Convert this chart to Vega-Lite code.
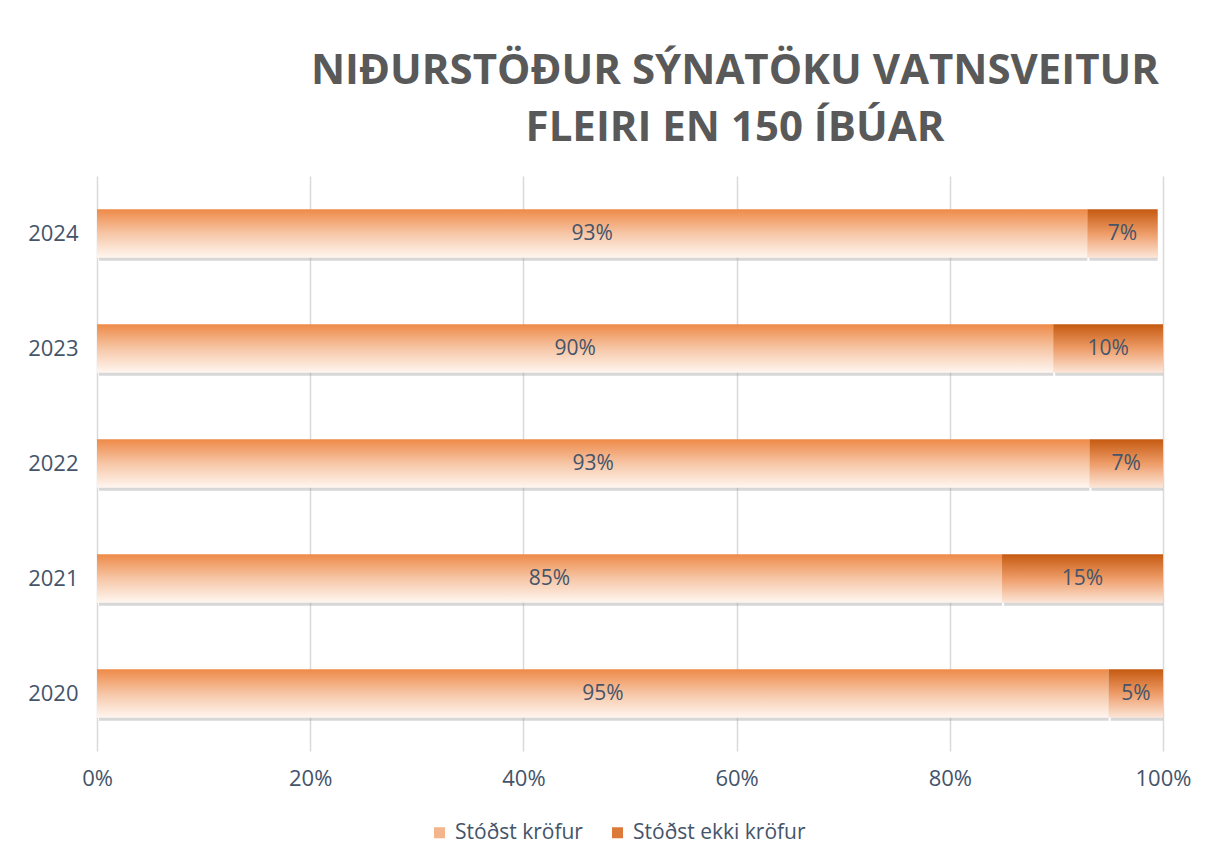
{
  "$schema": "https://vega.github.io/schema/vega-lite/v6.json",
  "width": 1066,
  "height": 575,
  "autosize": {"type": "none"},
  "padding": {"left": 97, "top": 176, "right": 51, "bottom": 117},
  "background": "white",
  "config": {"view": {"stroke": null}},
  "title": {
    "text": ["NIÐURSTÖÐUR SÝNATÖKU VATNSVEITUR", "FLEIRI EN 150 ÍBÚAR"],
    "font": "Open Sans",
    "fontSize": 42,
    "fontWeight": "bold",
    "color": "#595959",
    "anchor": "middle",
    "frame": "group",
    "dx": 105,
    "offset": 26,
    "lineHeight": 57
  },
  "data": {
    "values": [
      {"ar": "2024", "flokkur": "Stóðst kröfur", "hlutfall": 0.929},
      {"ar": "2024", "flokkur": "Stóðst ekki kröfur", "hlutfall": 0.066},
      {"ar": "2023", "flokkur": "Stóðst kröfur", "hlutfall": 0.897},
      {"ar": "2023", "flokkur": "Stóðst ekki kröfur", "hlutfall": 0.103},
      {"ar": "2022", "flokkur": "Stóðst kröfur", "hlutfall": 0.931},
      {"ar": "2022", "flokkur": "Stóðst ekki kröfur", "hlutfall": 0.069},
      {"ar": "2021", "flokkur": "Stóðst kröfur", "hlutfall": 0.849},
      {"ar": "2021", "flokkur": "Stóðst ekki kröfur", "hlutfall": 0.151},
      {"ar": "2020", "flokkur": "Stóðst kröfur", "hlutfall": 0.949},
      {"ar": "2020", "flokkur": "Stóðst ekki kröfur", "hlutfall": 0.051}
    ]
  },
  "transform": [
    {"stack": "hlutfall", "groupby": ["ar"], "sort": [{"field": "flokkur", "order": "descending"}], "as": ["x0", "x1"]},
    {"calculate": "(datum.x0 + datum.x1) / 2", "as": "mid"}
  ],
  "encoding": {
    "y": {
      "field": "ar",
      "type": "nominal",
      "sort": "descending",
      "scale": {"paddingInner": 0.58, "paddingOuter": 0.29},
      "axis": {
        "title": null,
        "domain": false,
        "ticks": false,
        "labelFont": "Open Sans",
        "labelFontSize": 22,
        "labelColor": "#44546A",
        "labelPadding": 19
      }
    },
    "x": {
      "field": "x0",
      "type": "quantitative",
      "scale": {"domain": [0, 1]},
      "axis": {
        "format": ".0%",
        "values": [0, 0.2, 0.4, 0.6, 0.8, 1],
        "title": null,
        "domain": false,
        "ticks": false,
        "grid": true,
        "gridColor": "#d9d9d9",
        "gridWidth": 1.5,
        "labelFlush": false,
        "labelFont": "Open Sans",
        "labelFontSize": 22,
        "labelColor": "#44546A",
        "labelPadding": 17
      }
    },
    "x2": {"field": "x1"}
  },
  "layer": [
    {
      "mark": {"type": "bar", "color": "#9a9a9a", "opacity": 0.4, "yOffset": 3, "xOffset": 2},
      "encoding": {}
    },
    {
      "transform": [{"filter": "datum.flokkur === 'Stóðst kröfur'"}],
      "mark": {
        "type": "bar",
        "color": {"gradient": "linear", "x1": 0, "y1": 0, "x2": 0, "y2": 1, "stops": [
          {"offset": 0, "color": "#EE8A48"},
          {"offset": 0.5, "color": "#F6C6A6"},
          {"offset": 1, "color": "#FFF6F0"}
        ]}
      },
      "encoding": {}
    },
    {
      "transform": [{"filter": "datum.flokkur === 'Stóðst ekki kröfur'"}],
      "mark": {
        "type": "bar",
        "color": {"gradient": "linear", "x1": 0, "y1": 0, "x2": 0, "y2": 1, "stops": [
          {"offset": 0, "color": "#C55A11"},
          {"offset": 0.5, "color": "#EE9C68"},
          {"offset": 1, "color": "#FCE6D8"}
        ]}
      },
      "encoding": {}
    },
    {
      "mark": {"type": "bar", "opacity": 0},
      "encoding": {
        "color": {
          "field": "flokkur",
          "type": "nominal",
          "scale": {"domain": ["Stóðst kröfur", "Stóðst ekki kröfur"], "range": ["#F3B58C", "#DB7A3A"]},
          "legend": {
            "title": null,
            "orient": "none",
            "legendX": 332,
            "legendY": 646,
            "direction": "horizontal",
            "symbolType": "square",
            "symbolSize": 121,
            "symbolStrokeWidth": 0,
            "symbolOpacity": 1,
            "labelFont": "Open Sans",
            "labelFontSize": 21,
            "labelColor": "#44546A",
            "labelLimit": 400,
            "columnPadding": 24,
            "labelOffset": 5
          }
        }
      }
    },
    {
      "mark": {"type": "text", "font": "Open Sans", "fontSize": 21, "color": "#44546A"},
      "encoding": {
        "x": {"field": "mid", "type": "quantitative"},
        "x2": null,
        "text": {"field": "hlutfall", "type": "quantitative", "format": ".0%"}
      }
    }
  ]
}
